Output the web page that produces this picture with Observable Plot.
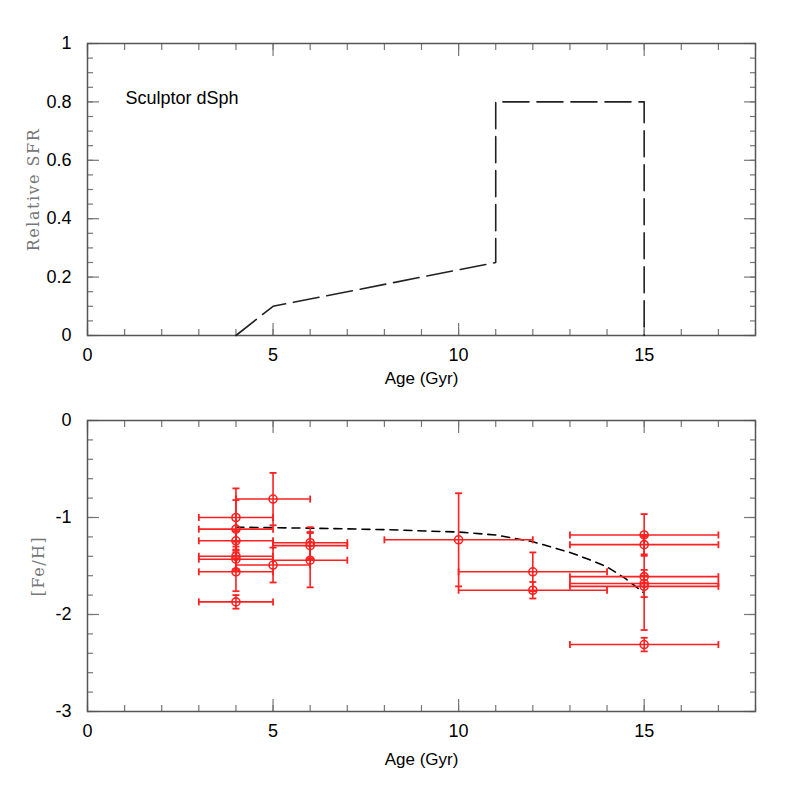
<!DOCTYPE html>
<html>
<head>
<meta charset="utf-8">
<script src="https://cdn.jsdelivr.net/npm/d3@7"></script>
<script src="https://cdn.jsdelivr.net/npm/@observablehq/plot@0.6"></script>
<style>
  html, body { margin: 0; padding: 0; background: #fff; }
  #chart svg { display: block; }
  .serif-label { letter-spacing: 1.5px; }
</style>
</head>
<body>
<div id="chart"></div>
<script>
// ---- Top panel: star formation history ----
const sfrAge  = [4, 5, 11, 11, 15, 15];
const sfrRate = [0, 0.1, 0.25, 0.8, 0.8, 0];

// ---- Bottom panel: model age-metallicity relation ----
const modelAge = [4, 6, 8, 10, 11, 12, 13, 13.5, 14, 14.5, 15];
const modelFeH = [-1.10, -1.11, -1.125, -1.15, -1.18, -1.25, -1.36, -1.43, -1.51, -1.63, -1.78];

// ---- Bottom panel: observed clusters/stars ----
const obsAge = [4, 4, 4, 4, 4, 4, 4, 5, 5, 6, 6, 6, 10, 12, 12, 15, 15, 15, 15, 15, 15];
const obsFeH = [-1.00, -1.12, -1.24, -1.40, -1.43, -1.56, -1.87, -0.81, -1.49, -1.26, -1.29, -1.44, -1.23, -1.56, -1.75, -1.18, -1.28, -1.61, -1.68, -1.71, -2.31];
const ageErr = [1, 1, 1, 1, 1, 1, 1, 1, 1, 1, 1, 1, 2, 2, 2, 2, 2, 2, 2, 2, 2];
const fehErr = [0.30, 0.30, 0.10, 0.15, 0.10, 0.20, 0.07, 0.27, 0.18, 0.16, 0.14, 0.28, 0.48, 0.20, 0.085, 0.215, 0.10, 0.07, 0.48, 0.11, 0.07];

// ---- Ticks ----
const xMajor = [0, 5, 10, 15];
const xMinor = [0, 1, 2, 3, 4, 5, 6, 7, 8, 9, 10, 11, 12, 13, 14, 15, 16, 17, 18];
const sfrMajor = [0, 0.2, 0.4, 0.6, 0.8, 1];
const sfrMinor = [0, 0.05, 0.1, 0.15, 0.2, 0.25, 0.3, 0.35, 0.4, 0.45, 0.5, 0.55, 0.6, 0.65, 0.7, 0.75, 0.8, 0.85, 0.9, 0.95, 1];
const fehMajor = [-3, -2, -1, 0];
const fehMinor = [-3, -2.8, -2.6, -2.4, -2.2, -2, -1.8, -1.6, -1.4, -1.2, -1, -0.8, -0.6, -0.4, -0.2, 0];

const sfr = sfrAge.map((a, i) => ({age: a, rate: sfrRate[i]}));
const model = modelAge.map((a, i) => ({age: a, feh: modelFeH[i]}));
const obs = obsAge.map((a, i) => ({age: a, feh: obsFeH[i], ea: ageErr[i], ef: fehErr[i]}));

const RED = "#ff2020";
const TICK = "#777";
const SANS = "Liberation Sans, Arial, Helvetica, sans-serif";
const SERIF = "DejaVu Serif, serif";

const vCap = {draw(ctx, size) { const h = Math.sqrt(size / Math.PI); ctx.moveTo(0, -h); ctx.lineTo(0, h); }};
const hCap = {draw(ctx, size) { const h = Math.sqrt(size / Math.PI); ctx.moveTo(-h, 0); ctx.lineTo(h, 0); }};

function frameTicks(yMajor, yMinor) {
  const none = () => "";
  const common = {label: null, tickFormat: none, stroke: TICK, strokeWidth: 1.2};
  return [
    Plot.axisX(xMinor, {...common, anchor: "bottom", tickSize: 6, dy: -6}),
    Plot.axisX(xMajor, {...common, anchor: "bottom", tickSize: 12, dy: -12}),
    Plot.axisX(xMinor, {...common, anchor: "top", tickSize: 6, dy: 6}),
    Plot.axisX(xMajor, {...common, anchor: "top", tickSize: 12, dy: 12}),
    Plot.axisY(yMinor, {...common, anchor: "left", tickSize: 6, dx: 6}),
    Plot.axisY(yMajor, {...common, anchor: "left", tickSize: 12, dx: 12}),
    Plot.axisY(yMinor, {...common, anchor: "right", tickSize: 6, dx: -6}),
    Plot.axisY(yMajor, {...common, anchor: "right", tickSize: 12, dx: -12}),
    Plot.axisX(xMajor, {anchor: "bottom", label: null, tickSize: 0, tickPadding: 13, fontSize: 18, fontFamily: SANS, fill: "#000", tickFormat: d => String(d)}),
    Plot.axisY(yMajor, {anchor: "left", label: null, tickSize: 0, tickPadding: 16, fontSize: 18, fontFamily: SANS, fill: "#000", tickFormat: d => String(d)})
  ];
}

const topPanel = Plot.plot({
  width: 797, height: 400,
  marginLeft: 87, marginRight: 42, marginTop: 43, marginBottom: 65,
  x: {domain: [0, 18]},
  y: {domain: [0, 1]},
  marks: [
    ...frameTicks(sfrMajor, sfrMinor),
    Plot.frame({stroke: "#555", strokeWidth: 1.5}),
    Plot.line(sfr, {x: "age", y: "rate", stroke: "#222", strokeWidth: 1.6, strokeDasharray: "26,8", curve: "linear"}),
    Plot.text(["Sculptor dSph"], {frameAnchor: "top-left", dx: 38, dy: 48, textAnchor: "start", fontSize: 18, fontFamily: SANS, fill: "#000"}),
    Plot.text(["Age (Gyr)"], {frameAnchor: "bottom", dy: 48, textAnchor: "middle", fontSize: 17, fontFamily: SANS, fill: "#000"}),
    Plot.text(["Relative SFR"], {frameAnchor: "left", dx: -54, rotate: -90, textAnchor: "middle", fontSize: 16, fontFamily: SERIF, fill: "#777"})
  ]
});

const bottomPanel = Plot.plot({
  width: 797, height: 397,
  marginLeft: 87, marginRight: 42, marginTop: 20, marginBottom: 86,
  x: {domain: [0, 18]},
  y: {domain: [-3, 0]},
  marks: [
    ...frameTicks(fehMajor, fehMinor),
    Plot.frame({stroke: "#555", strokeWidth: 1.5}),
    Plot.line(model, {x: "age", y: "feh", stroke: "#000", strokeWidth: 1.6, strokeDasharray: "8,6"}),
    Plot.ruleY(obs, {y: "feh", x1: d => d.age - d.ea, x2: d => d.age + d.ea, stroke: RED, strokeWidth: 1.6}),
    Plot.ruleX(obs, {x: "age", y1: d => d.feh - d.ef, y2: d => d.feh + d.ef, stroke: RED, strokeWidth: 1.6}),
    Plot.dot(obs, {x: d => d.age - d.ea, y: "feh", symbol: vCap, r: 3.5, stroke: RED, strokeWidth: 1.8, fill: "none"}),
    Plot.dot(obs, {x: d => d.age + d.ea, y: "feh", symbol: vCap, r: 3.5, stroke: RED, strokeWidth: 1.8, fill: "none"}),
    Plot.dot(obs, {x: "age", y: d => d.feh - d.ef, symbol: hCap, r: 3.5, stroke: RED, strokeWidth: 1.8, fill: "none"}),
    Plot.dot(obs, {x: "age", y: d => d.feh + d.ef, symbol: hCap, r: 3.5, stroke: RED, strokeWidth: 1.8, fill: "none"}),
    Plot.dot(obs, {x: "age", y: "feh", r: 4, stroke: RED, strokeWidth: 1.6, fill: "none"}),
    Plot.text(["Age (Gyr)"], {frameAnchor: "bottom", dy: 53, textAnchor: "middle", fontSize: 17, fontFamily: SANS, fill: "#000"}),
    Plot.text(["[Fe/H]"], {frameAnchor: "left", dx: -49, rotate: -90, textAnchor: "middle", fontSize: 16, fontFamily: SERIF, fill: "#777"})
  ]
});

const el = document.getElementById("chart");
el.appendChild(topPanel);
el.appendChild(bottomPanel);
// widen the letter spacing of the serif axis titles
d3.selectAll("#chart text").filter(function() {
  const t = this.textContent;
  return t === "Relative SFR" || t === "[Fe/H]";
}).attr("class", "serif-label");
</script>
</body>
</html>
